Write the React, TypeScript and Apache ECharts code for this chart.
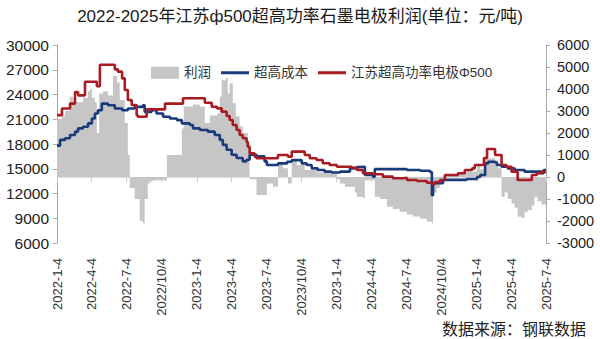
import React, { useEffect, useRef } from "react";
import * as echarts from "echarts";

const titleText = "2022-2025年江苏ф500超高功率石墨电极利润(单位：元/吨)";
const sourceText = "数据来源：钢联数据";
const seriesNames = ["利润", "超高成本", "江苏超高功率电极Φ500"];

const tickDates = [
  "2022-01-04", "2022-04-04", "2022-07-04", "2022-10-04", "2023-01-04", "2023-04-04", "2023-07-04",
  "2023-10-04", "2024-01-04", "2024-04-04", "2024-07-04", "2024-10-04", "2025-01-04", "2025-04-04", "2025-07-04",
];
const tickLabels = [
  "2022-1-4", "2022-4-4", "2022-7-4", "2022/10/4", "2023-1-4", "2023-4-4", "2023-7-4",
  "2023/10/4", "2023-1-4", "2024-4-4", "2024-7-4", "2024/10/4", "2025-1-4", "2025-4-4", "2025-7-4",
];

// 江苏超高功率电极Φ500 (left axis)
const priceDates = [
  "2022-01-04", "2022-01-17", "2022-02-07", "2022-02-20", "2022-02-28", "2022-03-18", "2022-04-18", "2022-04-26",
  "2022-06-04", "2022-06-12", "2022-06-23", "2022-06-30", "2022-07-08", "2022-07-18", "2022-07-31", "2022-08-03",
  "2022-08-26", "2022-10-13", "2022-11-29", "2023-01-25", "2023-02-12", "2023-02-26", "2023-03-10", "2023-03-23",
  "2023-03-31", "2023-04-08", "2023-04-18", "2023-04-26", "2023-05-04", "2023-05-14", "2023-05-17", "2023-05-22",
  "2023-06-04", "2023-06-09", "2023-08-04", "2023-08-30", "2023-09-09", "2023-10-13", "2023-10-26", "2023-11-13",
  "2023-11-29", "2023-12-17", "2024-01-05", "2024-02-13", "2024-02-26", "2024-03-13", "2024-04-08", "2024-05-04",
  "2024-05-30", "2024-06-25", "2024-07-06", "2024-08-01", "2024-08-27", "2024-09-09", "2024-09-17", "2024-09-30",
  "2024-10-13", "2024-11-16", "2024-12-04", "2024-12-23", "2024-12-30", "2025-01-23", "2025-01-31", "2025-02-21",
  "2025-03-10", "2025-03-23", "2025-04-05", "2025-04-21", "2025-05-28", "2025-06-10", "2025-06-22", "2025-07-04",
];
const priceValues = [
  21500, 22300, 22900, 24300, 23900, 25550, 25000, 27600,
  27050, 26770, 25960, 24550, 23330, 22730, 21500, 21300,
  22200, 22900, 23550, 23000, 22520, 22320, 21920, 21390,
  20910, 20300, 19700, 19090, 18690, 18280, 17680, 16870,
  16470, 16270, 16670, 16470, 17070, 16670, 16270, 16060,
  15660, 15460, 15250, 15130, 14850, 14450, 14330, 14040,
  13850, 13900, 13640, 13520, 13310, 13150, 13400, 13640,
  14240, 14450, 14850, 15050, 15460, 16300, 17400, 16670,
  15460, 15250, 14650, 13640, 14240, 14450, 14650, 14650,
];

// 超高成本 (left axis)
const costDates = [
  "2022-01-04", "2022-01-12", "2022-01-25", "2022-02-07", "2022-02-20", "2022-02-28", "2022-03-13", "2022-03-26",
  "2022-04-05", "2022-04-13", "2022-04-21", "2022-05-01", "2022-05-17", "2022-06-04", "2022-06-23", "2022-07-08",
  "2022-07-26", "2022-08-16", "2022-08-21", "2022-09-08", "2022-09-21", "2022-10-08", "2022-10-26", "2022-11-13",
  "2022-11-26", "2022-12-17", "2022-12-25", "2023-01-12", "2023-02-02", "2023-02-20", "2023-03-05", "2023-03-13",
  "2023-03-23", "2023-04-05", "2023-04-18", "2023-05-04", "2023-05-14", "2023-05-22", "2023-06-09", "2023-06-30",
  "2023-07-06", "2023-08-04", "2023-08-28", "2023-09-09", "2023-10-05", "2023-10-18", "2023-10-31", "2023-11-16",
  "2023-12-04", "2023-12-22", "2024-01-13", "2024-02-08", "2024-02-26", "2024-03-05", "2024-03-18", "2024-04-08",
  "2024-04-13", "2024-07-06", "2024-08-09", "2024-09-04", "2024-09-09", "2024-09-12", "2024-10-08", "2024-12-09",
  "2025-01-05", "2025-01-13", "2025-01-26", "2025-02-03", "2025-02-21", "2025-02-26", "2025-03-10", "2025-03-26",
  "2025-04-13", "2025-05-09", "2025-06-22", "2025-06-28", "2025-07-04",
];
const costValues = [
  17800, 18500, 18700, 19100, 19500, 19900, 20100, 20500,
  21100, 21700, 22100, 22900, 22700, 22300, 22100, 22300,
  22500, 22700, 21900, 22100, 21700, 21300, 21100, 20900,
  20500, 20300, 19900, 19700, 19500, 19100, 18500, 17900,
  17300, 16700, 16300, 15900, 16100, 16700, 16500, 15900,
  15450, 15650, 15850, 16050, 15650, 15450, 15050, 14850,
  14650, 14550, 14650, 15050, 15200, 15250, 14250, 14050,
  14950, 14850, 14750, 14600, 11800, 13250, 13650, 13750,
  14000, 14250, 15650, 15850, 15750, 15450, 15250, 15050,
  14850, 14650, 14450, 14850, 14850,
];

// 利润 (right axis)
const profitDates = [
  "2022-01-04", "2022-01-17", "2022-01-25", "2022-02-07", "2022-02-15", "2022-03-13", "2022-03-26", "2022-03-31",
  "2022-04-05", "2022-04-13", "2022-04-18", "2022-04-24", "2022-05-04", "2022-05-17", "2022-05-30", "2022-06-10",
  "2022-06-17", "2022-06-30", "2022-07-08", "2022-07-13", "2022-07-26", "2022-08-08", "2022-08-16", "2022-08-21",
  "2022-08-29", "2022-09-03", "2022-09-11", "2022-10-18", "2022-11-26", "2022-12-01", "2022-12-25", "2023-01-12",
  "2023-01-25", "2023-02-07", "2023-02-26", "2023-03-05", "2023-03-10", "2023-03-21", "2023-03-26", "2023-03-31",
  "2023-04-08", "2023-04-16", "2023-04-26", "2023-05-04", "2023-05-17", "2023-05-22", "2023-06-09", "2023-07-06",
  "2023-07-22", "2023-08-04", "2023-08-17", "2023-08-30", "2023-09-09", "2023-09-22", "2023-10-13", "2023-11-16",
  "2023-12-17", "2024-01-05", "2024-01-13", "2024-01-26", "2024-02-21", "2024-02-26", "2024-03-13", "2024-03-18",
  "2024-04-13", "2024-04-26", "2024-05-15", "2024-05-30", "2024-06-17", "2024-07-06", "2024-07-21", "2024-08-09",
  "2024-08-27", "2024-09-09", "2024-09-12", "2024-09-22", "2024-09-30", "2024-10-08", "2024-10-18", "2024-11-13",
  "2024-12-09", "2025-01-05", "2025-01-13", "2025-01-26", "2025-02-21", "2025-02-28", "2025-03-10", "2025-03-18",
  "2025-03-26", "2025-04-05", "2025-04-13", "2025-04-21", "2025-05-01", "2025-05-09", "2025-05-17", "2025-05-28",
  "2025-06-04", "2025-06-12", "2025-06-22", "2025-07-04",
];
const profitValues = [
  2650, 2800, 3000, 3650, 3400, 3600, 3900, 4000,
  3600, 3400, 2000, 3800, 3900, 3700, 4600, 4300,
  3500, 2450, 1000, -500, -1000, -2000, -2100, -1000,
  -300, -200, -150, 1000, 2200, 3200, 3300, 3200,
  2450, 2800, 2900, 3650, 4400, 4500, 3800, 4250,
  3350, 2750, 2300, 2000, 1550, -100, -820, -290,
  -440, 620, 400, -290, 770, 550, 320, 200,
  150, -100, -300, -440, -700, -900, -950, -150,
  -900, -1000, -1350, -1450, -1580, -1700, -1800, -1900,
  -2030, -2100, -700, -500, -300, 50, 100, 150,
  250, 600, 350, 850, 750, 400, -900, -700,
  -1000, -1200, -1400, -1800, -1850, -1600, -1500, -1300,
  -900, -1100, -1250, -1250,
];

const DAY = 86400000;
const ts = (s: string) => {
  const [y, m, d] = s.split("-").map(Number);
  return Math.round(Date.UTC(y, m - 1, d) / DAY);
};
const zip = (dates: string[], values: number[]) => dates.map((d, i) => [ts(d), values[i]]);

const FONT = "'Liberation Sans', 'Noto Sans CJK SC', sans-serif";
const LINE_ICON = "path://M0 0H28V3H0Z";

export default function App() {
  const ref = useRef<HTMLDivElement>(null);
  useEffect(() => {
    if (!ref.current) return;
    const chart = echarts.init(ref.current, null, { renderer: "svg" });
    const tickTs = tickDates.map(ts);
    const labelMap: Record<number, string> = {};
    tickTs.forEach((t, i) => (labelMap[t] = tickLabels[i]));
    const axisColor = "#a8a8a8";
    const plain = (v: number) => String(v);
    chart.setOption({
      animation: false,
      backgroundColor: "#ffffff",
      textStyle: { fontFamily: FONT },
      title: {
        text: titleText,
        left: "center",
        top: 3,
        textStyle: { fontSize: 17, fontWeight: "normal", color: "#1a1a1a", fontFamily: FONT },
      },
      legend: {
        left: 146,
        top: 61,
        itemWidth: 28,
        itemHeight: 12,
        itemGap: 10,
        textStyle: { fontSize: 13.5, color: "#333", fontFamily: FONT },
        data: [
          { name: seriesNames[0], icon: "rect", itemStyle: { color: "#c6c6c6" } },
          { name: seriesNames[1], icon: LINE_ICON, itemStyle: { color: "#1b3a7a" } },
          { name: seriesNames[2], icon: LINE_ICON, itemStyle: { color: "#a91b22" } },
        ],
      },
      grid: { left: 57, right: 54, top: 45, bottom: 96 },
      xAxis: {
        type: "value",
        min: tickTs[0],
        max: tickTs[tickTs.length - 1],
        axisLine: { show: true, lineStyle: { color: "#dcdcdc" } },
        axisTick: { show: true, length: 5, lineStyle: { color: "#cfcfcf" }, customValues: tickTs },
        splitLine: { show: false },
        axisLabel: {
          rotate: 90,
          margin: 15,
          fontSize: 13,
          color: "#333",
          customValues: tickTs,
          formatter: (v: number) => labelMap[v] ?? "",
        },
      },
      yAxis: [
        {
          type: "value",
          min: 6000,
          max: 30000,
          interval: 3000,
          axisLine: { show: true, lineStyle: { color: axisColor } },
          axisTick: { show: true, length: 4, lineStyle: { color: axisColor } },
          splitLine: { show: false },
          axisLabel: { fontSize: 15.5, color: "#222", margin: 8, formatter: plain },
        },
        {
          type: "value",
          min: -3000,
          max: 6000,
          interval: 1000,
          position: "right",
          axisLine: { show: true, lineStyle: { color: axisColor } },
          axisTick: { show: true, length: 4, lineStyle: { color: axisColor } },
          splitLine: { show: false },
          axisLabel: { fontSize: 14.5, color: "#222", margin: 11, formatter: plain },
        },
      ],
      series: [
        {
          name: seriesNames[0],
          type: "line",
          yAxisIndex: 1,
          step: "end",
          symbol: "none",
          data: zip(profitDates, profitValues),
          lineStyle: { width: 0, color: "#c6c6c6" },
          itemStyle: { color: "#c6c6c6" },
          areaStyle: { color: "#c6c6c6", opacity: 1 },
          z: 1,
        },
        {
          name: seriesNames[1],
          type: "line",
          yAxisIndex: 0,
          step: "end",
          symbol: "none",
          data: zip(costDates, costValues),
          lineStyle: { width: 2.6, color: "#1b3a7a" },
          itemStyle: { color: "#1b3a7a" },
          z: 3,
        },
        {
          name: seriesNames[2],
          type: "line",
          yAxisIndex: 0,
          step: "end",
          symbol: "none",
          data: zip(priceDates, priceValues),
          lineStyle: { width: 2.6, color: "#a91b22" },
          itemStyle: { color: "#a91b22" },
          z: 4,
        },
      ],
      graphic: [
        {
          type: "text",
          right: 14,
          top: 321,
          style: { text: sourceText, fontSize: 16, fill: "#222", fontFamily: FONT },
        },
      ],
    });
    return () => chart.dispose();
  }, []);
  return <div ref={ref} style={{ width: 600, height: 339, position: "absolute", left: 0, top: 0 }} />;
}
